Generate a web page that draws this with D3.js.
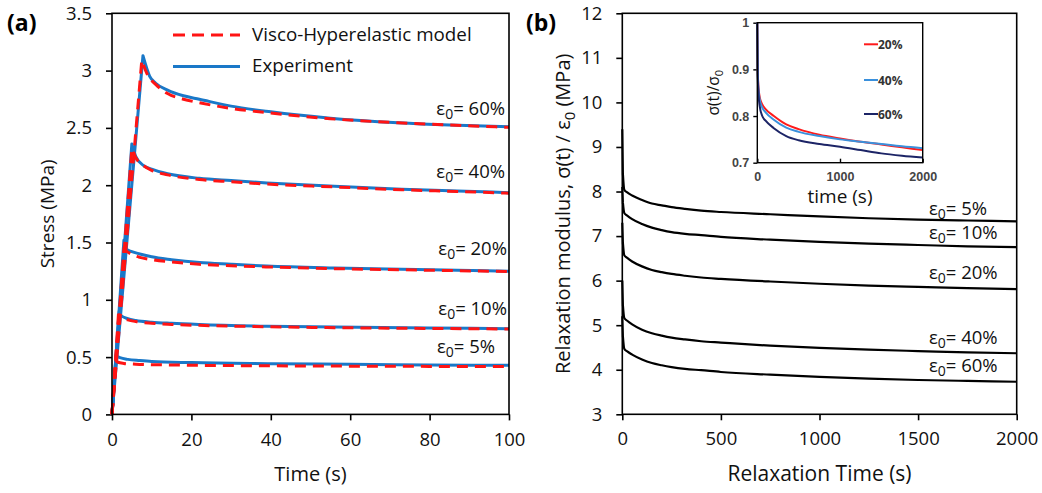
<!DOCTYPE html>
<html><head><meta charset="utf-8">
<script src="https://cdn.jsdelivr.net/npm/d3@7/dist/d3.min.js"></script>
<style>
body{margin:0;background:#fff;}
svg{display:block;font-family:"Open Sans",sans-serif;}
</style></head>
<body><svg id="c" width="1042" height="493"></svg>
<script>
// ---------- DATA: panel (a) stress vs time ----------
const strainLabels = ["60%", "40%", "20%", "10%", "5%"];
const expT60 = [0, 7.8, 9.5, 11, 14, 18, 22, 30, 40, 55, 72, 85, 100];
const expV60 = [0, 3.13, 2.95, 2.89, 2.83, 2.78, 2.75, 2.69, 2.64, 2.585, 2.545, 2.525, 2.51];
const modT60 = [0, 7.5, 9, 11, 14, 18, 22, 30, 40, 55, 72, 85, 100];
const modV60 = [0, 3.09, 2.96, 2.88, 2.8, 2.75, 2.72, 2.67, 2.63, 2.58, 2.545, 2.525, 2.505];
const expT40 = [0, 5, 6, 8, 10, 14, 22, 30, 39, 56, 73, 87, 100];
const expV40 = [0, 2.36, 2.25, 2.17, 2.14, 2.1, 2.06, 2.04, 2.02, 1.99, 1.965, 1.95, 1.935];
const modT40 = [0, 5, 6, 8, 10, 14, 22, 30, 39, 56, 73, 87, 100];
const modV40 = [0, 2.32, 2.24, 2.17, 2.13, 2.09, 2.05, 2.03, 2.01, 1.985, 1.96, 1.945, 1.93];
const expT20 = [0, 3.0, 3.3, 5, 7, 10, 15, 22, 30, 39, 56, 73, 87, 100];
const expV20 = [0, 1.52, 1.45, 1.42, 1.4, 1.375, 1.35, 1.325, 1.31, 1.295, 1.278, 1.266, 1.258, 1.25];
const modT20 = [0, 3, 5, 7, 10, 15, 22, 30, 39, 56, 73, 87, 100];
const modV20 = [0, 1.44, 1.395, 1.37, 1.35, 1.33, 1.31, 1.297, 1.287, 1.272, 1.262, 1.254, 1.246];
const expT10 = [0, 1.8, 2.2, 4, 6, 10, 15, 22, 39, 56, 80, 100];
const expV10 = [0, 0.9, 0.865, 0.835, 0.82, 0.805, 0.795, 0.785, 0.77, 0.762, 0.754, 0.748];
const modT10 = [0, 1.6, 2.5, 4, 6, 10, 15, 22, 39, 56, 80, 100];
const modV10 = [0, 0.86, 0.845, 0.825, 0.81, 0.795, 0.785, 0.777, 0.765, 0.757, 0.75, 0.745];
const expT5 = [0, 1, 2, 4, 7, 10, 20, 40, 60, 80, 100];
const expV5 = [0, 0.51, 0.495, 0.48, 0.47, 0.462, 0.452, 0.443, 0.437, 0.432, 0.428];
const modT5 = [0, 0.9, 1.5, 3, 6, 10, 20, 40, 60, 80, 100];
const modV5 = [0, 0.47, 0.455, 0.445, 0.438, 0.434, 0.429, 0.424, 0.421, 0.419, 0.417];
const aXTicks = [0, 20, 40, 60, 80, 100];
const aYTicks = [0, 0.5, 1, 1.5, 2, 2.5, 3, 3.5];
// label anchors (data units) for panel (a)
const aLabelT = [99, 99, 99.5, 99.5, 96.5];
const aLabelV = [2.61, 2.06, 1.39, 0.87, 0.54];

// ---------- DATA: panel (b) relaxation modulus ----------
const bT   = [0, 3, 10, 25, 50, 100, 150, 200, 250, 318, 400, 500, 750, 1000, 1250, 1500, 1750, 2000];
const bV5  = [9.4, 8.4, 8.04, 7.98, 7.91, 7.81, 7.73, 7.69, 7.65, 7.61, 7.57, 7.54, 7.49, 7.44, 7.40, 7.37, 7.35, 7.33];
const bV10 = [8.1, 7.75, 7.52, 7.46, 7.38, 7.27, 7.19, 7.135, 7.09, 7.05, 7.02, 6.98, 6.92, 6.87, 6.83, 6.80, 6.77, 6.75];
const bV20 = [7.3, 6.85, 6.57, 6.51, 6.43, 6.32, 6.24, 6.19, 6.15, 6.11, 6.07, 6.04, 5.98, 5.93, 5.89, 5.86, 5.83, 5.81];
const bV40 = [6.0, 5.45, 5.16, 5.10, 5.02, 4.90, 4.82, 4.765, 4.72, 4.68, 4.64, 4.61, 4.54, 4.49, 4.45, 4.42, 4.39, 4.37];
const bV60 = [5.2, 4.75, 4.47, 4.41, 4.34, 4.23, 4.15, 4.10, 4.06, 4.02, 3.99, 3.95, 3.89, 3.84, 3.80, 3.77, 3.75, 3.73];
const bLabels = ["5%", "10%", "20%", "40%", "60%"];
const bXTicks = [0, 500, 1000, 1500, 2000];
const bYTicks = [3, 4, 5, 6, 7, 8, 9, 10, 11, 12];
const bLabelT = [1555, 1555, 1555, 1555, 1555];
const bLabelV = [7.47, 6.93, 6.04, 4.58, 3.96];

// ---------- DATA: inset normalized stress ----------
const inT = [0, 5, 15, 30, 60, 100, 200, 350, 500, 750, 1000, 1250, 1500, 1750, 2000];
const in20 = [1, 0.9, 0.86, 0.84, 0.825, 0.815, 0.80, 0.782, 0.772, 0.76, 0.752, 0.745, 0.739, 0.733, 0.727];
const in40 = [1, 0.9, 0.855, 0.835, 0.818, 0.808, 0.792, 0.775, 0.766, 0.757, 0.75, 0.745, 0.74, 0.735, 0.731];
const in60 = [1, 0.89, 0.845, 0.82, 0.8, 0.79, 0.774, 0.757, 0.748, 0.74, 0.734, 0.727, 0.72, 0.715, 0.711];
const inLabels = ["20%", "40%", "60%"];
const inXTicks = [0, 1000, 2000];
const inYTicks = [0.7, 0.8, 0.9, 1];

// ---------- DRAW ----------
const svg = d3.select("#c");
const zip = (t, v) => t.map((d, i) => [d, v[i]]);
const BLUE = "#1a78c8", RED = "#ff1414";
const TXT = "#111";

function epsLabel(g, x, y, pct, anchor) {
  const t = g.append("text").attr("x", x).attr("y", y).attr("text-anchor", anchor)
    .attr("font-size", 18.5).attr("fill", TXT);
  t.append("tspan").text("ε");
  t.append("tspan").attr("dy", 4).attr("font-size", 14).text("0");
  t.append("tspan").attr("dy", -4).text("= " + pct);
}
function frame(g, x, y) {
  g.append("rect").attr("x", x.range()[0]).attr("y", y.range()[1])
    .attr("width", x.range()[1] - x.range()[0]).attr("height", y.range()[0] - y.range()[1])
    .attr("fill", "none").attr("stroke", "#000").attr("stroke-width", 1.6);
}
function styleAxis(ax, fs) {
  ax.select(".domain").remove();
  ax.selectAll("line").attr("stroke", "#000").attr("stroke-width", 1.6);
  ax.selectAll("text").attr("font-size", fs).attr("fill", TXT).attr("font-family", "Open Sans, sans-serif");
}
// linear ramp for the first segment(s), smooth monotone curve afterwards
function rampPath(line, pts, nLinear) {
  const head = pts.slice(0, nLinear + 1).map((p, i) => (i ? "L" : "M") + line.x()(p) + "," + line.y()(p)).join("");
  return head + "L" + line(pts.slice(nLinear)).slice(1);
}

// Panel (a)
const xA = d3.scaleLinear().domain([0, 100]).range([112, 509]);
const yA = d3.scaleLinear().domain([0, 3.5]).range([414.4, 13.3]);
const gA = svg.append("g");
const axA = gA.append("g").attr("transform", `translate(0,${yA(0)})`)
  .call(d3.axisBottom(xA).tickValues(aXTicks).tickSize(6).tickPadding(12).tickFormat(d3.format("d")));
styleAxis(axA, 18.5);
const ayA = gA.append("g").attr("transform", `translate(${xA(0)},0)`)
  .call(d3.axisLeft(yA).tickValues(aYTicks).tickSize(6).tickPadding(14).tickFormat(d => d));
styleAxis(ayA, 18.5);

const lineA = d3.line().x(d => xA(d[0])).y(d => yA(d[1])).curve(d3.curveMonotoneX);
const expSets = [[expT60, expV60], [expT40, expV40], [expT20, expV20], [expT10, expV10], [expT5, expV5]];
const modSets = [[modT60, modV60], [modT40, modV40], [modT20, modV20], [modT10, modV10], [modT5, modV5]];
expSets.forEach(s => gA.append("path").attr("d", rampPath(lineA, zip(s[0], s[1]), 1)).attr("fill", "none")
  .attr("stroke", BLUE).attr("stroke-width", 3).attr("stroke-linejoin", "round"));
modSets.forEach(s => gA.append("path").attr("d", rampPath(lineA, zip(s[0], s[1]), 1)).attr("fill", "none")
  .attr("stroke", RED).attr("stroke-width", 3).attr("stroke-dasharray", "11,7"));
frame(gA, xA, yA);
strainLabels.forEach((l, i) => epsLabel(gA, xA(aLabelT[i]), yA(aLabelV[i]), l, "end"));

// legend (a)
gA.append("line").attr("x1", 173).attr("x2", 240).attr("y1", 35).attr("y2", 35)
  .attr("stroke", RED).attr("stroke-width", 3).attr("stroke-dasharray", "12,7");
gA.append("line").attr("x1", 173).attr("x2", 240).attr("y1", 66.5).attr("y2", 66.5)
  .attr("stroke", BLUE).attr("stroke-width", 3);
gA.append("text").attr("x", 252).attr("y", 41).attr("font-size", 18.8).attr("fill", TXT).text("Visco-Hyperelastic model");
gA.append("text").attr("x", 252).attr("y", 72).attr("font-size", 18.8).attr("fill", TXT).text("Experiment");

gA.append("text").attr("x", xA(50)).attr("y", 481).attr("text-anchor", "middle")
  .attr("font-size", 20).attr("fill", TXT).text("Time (s)");
gA.append("text").attr("transform", `translate(54,${(yA(0) + yA(3.5)) / 2}) rotate(-90)`)
  .attr("text-anchor", "middle").attr("font-size", 19).attr("fill", TXT).text("Stress (MPa)");
gA.append("text").attr("x", 7).attr("y", 31).attr("font-size", 23).attr("font-weight", "bold").text("(a)");

// Panel (b)
const xB = d3.scaleLinear().domain([0, 2000]).range([622.3, 1016.7]);
const yB = d3.scaleLinear().domain([3, 12]).range([414.3, 13.3]);
const gB = svg.append("g");
const axB = gB.append("g").attr("transform", `translate(0,${yB(3)})`)
  .call(d3.axisBottom(xB).tickValues(bXTicks).tickSize(6).tickPadding(12).tickFormat(d3.format("d")));
styleAxis(axB, 18.5);
const ayB = gB.append("g").attr("transform", `translate(${xB(0)},0)`)
  .call(d3.axisLeft(yB).tickValues(bYTicks).tickSize(6).tickPadding(14).tickFormat(d3.format("d")));
styleAxis(ayB, 18.5);
const lineB = d3.line().x(d => xB(d[0])).y(d => yB(d[1])).curve(d3.curveMonotoneX);
[bV5, bV10, bV20, bV40, bV60].forEach(v => gB.append("path").attr("d", rampPath(lineB, zip(bT, v), 1))
  .attr("fill", "none").attr("stroke", "#000").attr("stroke-width", 2.2));
frame(gB, xB, yB);
bLabels.forEach((l, i) => epsLabel(gB, xB(bLabelT[i]), yB(bLabelV[i]), l, "start"));

gB.append("text").attr("x", xB(1000)).attr("y", 481).attr("text-anchor", "middle")
  .attr("font-size", 21).attr("fill", TXT).text("Relaxation Time (s)");
const tyB = gB.append("text").attr("transform", `translate(570,${(yB(3) + yB(12)) / 2}) rotate(-90)`)
  .attr("text-anchor", "middle").attr("font-size", 20).attr("fill", TXT);
tyB.append("tspan").text("Relaxation modulus, σ(t) / ε");
tyB.append("tspan").attr("dy", 5).attr("font-size", 15).text("0");
tyB.append("tspan").attr("dy", -5).text(" (MPa)");
gB.append("text").attr("x", 526).attr("y", 31).attr("font-size", 23).attr("font-weight", "bold").text("(b)");

// Inset
const xI = d3.scaleLinear().domain([0, 2000]).range([757.3, 922.7]);
const yI = d3.scaleLinear().domain([0.7, 1]).range([162.7, 22.7]);
const gI = svg.append("g");
gI.append("rect").attr("x", xI.range()[0]).attr("y", yI.range()[1])
  .attr("width", xI.range()[1] - xI.range()[0]).attr("height", yI.range()[0] - yI.range()[1]).attr("fill", "#fff");
const axI = gI.append("g").attr("transform", `translate(0,${yI(0.7)})`)
  .call(d3.axisBottom(xI).tickValues(inXTicks).tickSizeInner(-4).tickPadding(9).tickFormat(d3.format("d")));
const ayI = gI.append("g").attr("transform", `translate(${xI(0)},0)`)
  .call(d3.axisLeft(yI).tickValues(inYTicks).tickSize(4).tickPadding(4).tickFormat(d => d));
[axI, ayI].forEach(a => {
  a.select(".domain").remove();
  a.selectAll("line").attr("stroke", "#000").attr("stroke-width", 1.4);
  a.selectAll("text").attr("font-size", 12.5).attr("font-weight", 600).attr("fill", "#444");
});
const lineI = d3.line().x(d => xI(d[0])).y(d => yI(d[1])).curve(d3.curveMonotoneX);
const inColors = ["#ff1a1a", "#3a90dc", "#1c2466"];
[in20, in40, in60].forEach((v, i) => gI.append("path").attr("d", lineI(zip(inT, v)))
  .attr("fill", "none").attr("stroke", inColors[i]).attr("stroke-width", 2));
gI.append("rect").attr("x", xI.range()[0]).attr("y", yI.range()[1])
  .attr("width", xI.range()[1] - xI.range()[0]).attr("height", yI.range()[0] - yI.range()[1])
  .attr("fill", "none").attr("stroke", "#000").attr("stroke-width", 1.4);
const legY = [44.3, 80, 114];
inLabels.forEach((l, i) => {
  gI.append("line").attr("x1", 864).attr("x2", 878).attr("y1", legY[i]).attr("y2", legY[i])
    .attr("stroke", inColors[i]).attr("stroke-width", 2);
  gI.append("text").attr("x", 878).attr("y", legY[i] + 4.5).attr("font-size", 12).attr("font-weight", "bold")
    .attr("fill", "#333").text(l);
});
gI.append("text").attr("x", xI(1000)).attr("y", 203).attr("text-anchor", "middle")
  .attr("font-size", 19).attr("fill", TXT).text("time (s)");
const tyI = gI.append("text").attr("transform", `translate(719,${(yI(0.7) + yI(1)) / 2}) rotate(-90)`)
  .attr("text-anchor", "middle").attr("font-size", 15.5).attr("fill", TXT);
tyI.append("tspan").text("σ(t)/σ");
tyI.append("tspan").attr("dy", 4).attr("font-size", 11).text("0");
</script></body></html>
